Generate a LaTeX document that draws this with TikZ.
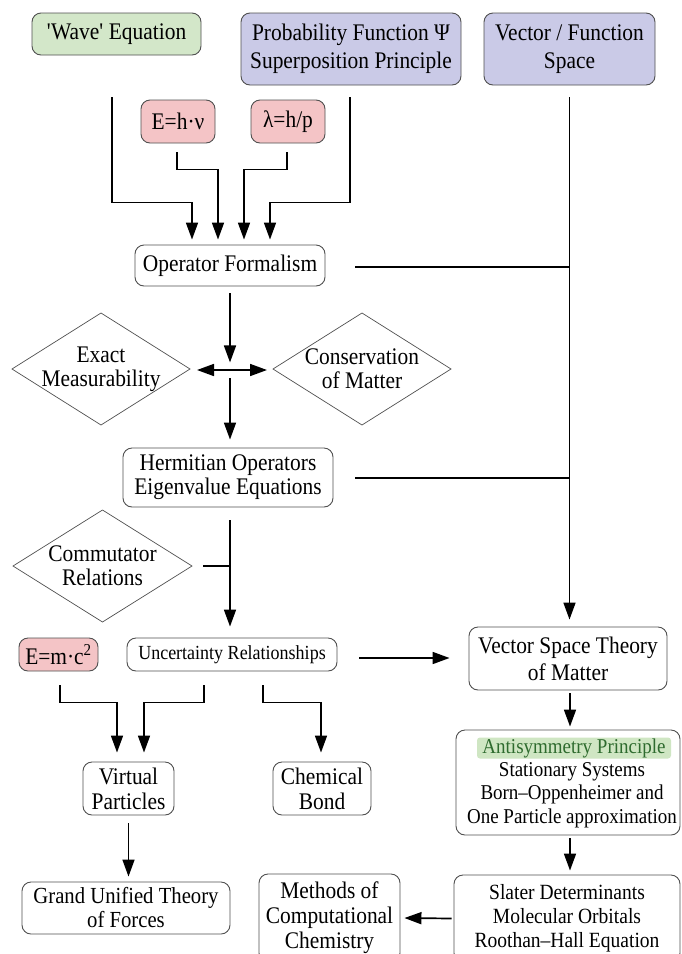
\documentclass[tikz,border=0pt]{standalone}
\usepackage{fontspec}
\setmainfont{Liberation Serif}[FakeStretch=0.9]
\usetikzlibrary{arrows.meta,calc}
\definecolor{wgreen}{HTML}{D3E7C9}
\definecolor{lav}{HTML}{CACAE7}
\definecolor{pinkc}{HTML}{F4C4C6}
\definecolor{hlgreen}{HTML}{CFE6C3}
\definecolor{dgreen}{HTML}{2E6B2E}
\definecolor{bord}{HTML}{505050}
\begin{document}
\begin{tikzpicture}[x=1pt,y=-1pt,
  box/.style={draw=bord, line width=0.9pt, rounded corners=9pt, align=center, inner sep=0pt, font=\fontsize{23.8}{25}\selectfont},
  dtext/.style={align=center, inner sep=0pt, font=\fontsize{23.8}{24}\selectfont},
  conn/.style={line width=1.7pt},
  arr/.style={conn, -{Triangle[length=17pt,width=12pt]}},
  darr/.style={conn, {Triangle[length=17pt,width=12pt]}-{Triangle[length=17pt,width=12pt]}},
  dia/.style={draw=bord, line width=0.7pt},
]
\useasboundingbox (0,0) rectangle (682,954);
\fill[white] (0,0) rectangle (682,954);

% boxes
\node[box, fill=wgreen, minimum width=169pt, minimum height=42pt] (wave) at (116.5,34) {\textquotesingle Wave\textquotesingle{} Equation};
\node[box, fill=lav, minimum width=220pt, minimum height=72pt, font=\fontsize{23.8}{28}\selectfont] (prob) at (351,49) {Probability Function Ψ\\Superposition Principle};
\node[box, fill=lav, minimum width=171pt, minimum height=72pt, font=\fontsize{23.8}{28}\selectfont] (vec) at (569.5,49) {Vector / Function\\Space};
\node[box, fill=pinkc, minimum width=74pt, minimum height=43pt] (ehv) at (178,121.5) {E=h·ν};
\node[box, fill=pinkc, minimum width=74pt, minimum height=43pt] (lam) at (288,121.5) {λ=h/p};
\node[box, minimum width=190pt, minimum height=41pt] (opf) at (230,265.5) {Operator Formalism};
\node[box, minimum width=210pt, minimum height=59pt, font=\fontsize{23.8}{24}\selectfont] (herm) at (228,477.5) {Hermitian Operators\\Eigenvalue Equations};
\node[box, fill=pinkc, minimum width=79pt, minimum height=33pt] (emc) at (58.5,654.5) {E=m·c\textsuperscript{2}};
\node[box, minimum width=210pt, minimum height=33pt, font=\fontsize{20}{22}\selectfont] (unc) at (232,654.5) {Uncertainty Relationships};
\node[box, minimum width=198pt, minimum height=63pt, font=\fontsize{23.8}{27}\selectfont] (vst) at (568,658.5) {Vector Space Theory\\of Matter};
\node[box, minimum width=91pt, minimum height=53pt] (virt) at (128.5,788.5) {Virtual\\Particles};
\node[box, minimum width=98pt, minimum height=53pt] (chem) at (322,788.5) {Chemical\\Bond};
\node[box, minimum width=224pt, minimum height=105pt] (anti) at (568,782.5) {};
\node[fill=hlgreen, rounded corners=3pt, text=dgreen, inner sep=0pt, minimum width=194pt, minimum height=21pt, font=\fontsize{21.1}{23}\selectfont] (antihl) at (574,748) {Antisymmetry Principle};
\node[align=center, inner sep=0pt, font=\fontsize{21.1}{23.3}\selectfont] (antitxt) at (572,795) {Stationary Systems\\Born--Oppenheimer and\\One Particle approximation};
\node[box, minimum width=208pt, minimum height=52pt, font=\fontsize{23}{24}\selectfont] (gut) at (126,908) {Grand Unified Theory\\of Forces};
\node[box, minimum width=141pt, minimum height=88pt] (meth) at (329.5,918) {Methods of\\Computational\\Chemistry};
\node[box, minimum width=226pt, minimum height=87pt, font=\fontsize{21.7}{24}\selectfont] (slat) at (567,918.5) {Slater Determinants\\Molecular Orbitals\\Roothan--Hall Equation};

% diamonds
\node[dtext] (exact) at (101,369) {Exact\\Measurability};
\draw[dia] (exact.center) +(-89,0) -- +(0,-56) -- +(89,0) -- +(0,56) -- cycle;
\node[dtext] (cons) at (362,369) {Conservation\\of Matter};
\draw[dia] (cons.center) +(-89,0) -- +(0,-56) -- +(89,0) -- +(0,56) -- cycle;
\node[dtext] (comm) at (102.5,566) {Commutator\\Relations};
\draw[dia] (comm.center) +(-89.5,0) -- +(0,-56) -- +(89.5,0) -- +(0,56) -- cycle;

% connectors at the top
\draw[arr] ($(wave.south)+(-4.5,42)$) |- ++(80,105) -- ($(opf.north)+(-38,-5)$);
\draw[arr] ($(ehv.south)+(-1,9)$) |- ++(41,17) -- ($(opf.north)+(-12,-5)$);
\draw[arr] ($(lam.south)+(-1,9)$) |- ++(-43,17) -- ($(opf.north)+(14,-5)$);
\draw[arr] ($(prob.south)+(-1,12)$) |- ++(-80,105) -- ($(opf.north)+(40,-5)$);
\draw[arr] ($(vec.south)+(0,12)$) -- ($(vec.south |- vst.north)+(0,-7)$);
\draw[conn] ($(opf.east)+(30,1.5)$) -- ($(vec.south |- opf.east)+(0,1.5)$);
\draw[conn] ($(herm.east)+(22,0.5)$) -- ($(vec.south |- herm.east)+(0,0.5)$);

% central column
\draw[arr] ($(opf.south)+(0,7)$) -- ($(opf.south)+(0,76)$);
\draw[darr] ($(exact.center)+(96,1)$) -- ($(cons.center)+(-95,1)$);
\draw[arr] ($(opf.south)+(0,92)$) -- ($(herm.north)+(2,-8)$);
\draw[arr] ($(herm.south)+(2,13)$) -- ($(unc.north)+(-2,-11)$);
\draw[conn] ($(comm.center)+(100.5,0)$) -- ++(27.5,0);
\draw[arr] ($(unc.east)+(22,3.5)$) -- ($(vst.west)+(-19,-0.5)$);

% lower connectors
\draw[arr] ($(emc.south)+(1.5,14)$) |- ++(57,17) -- ($(virt.north)+(-11.5,-9)$);
\draw[arr] ($(unc.south)+(-28,14)$) |- ++(-60,17) -- ($(virt.north)+(15.5,-9)$);
\draw[arr] ($(unc.south)+(31,14)$) |- ++(58,17) -- ($(chem.north)+(-1,-9)$);
\draw[arr] ($(virt.south)+(0,8)$) -- ($(virt.south |- gut.north)+(0,-5)$);
\draw[arr] ($(vst.south)+(2,3)$) -- ($(anti.north)+(2,-3)$);
\draw[arr] ($(anti.south)+(2,3)$) -- ($(slat.north)+(3,-4)$);
\draw[arr] ($(slat.west)+(-2,0)$) -- ($(meth.east)+(4,0)$);
\end{tikzpicture}
\end{document}
